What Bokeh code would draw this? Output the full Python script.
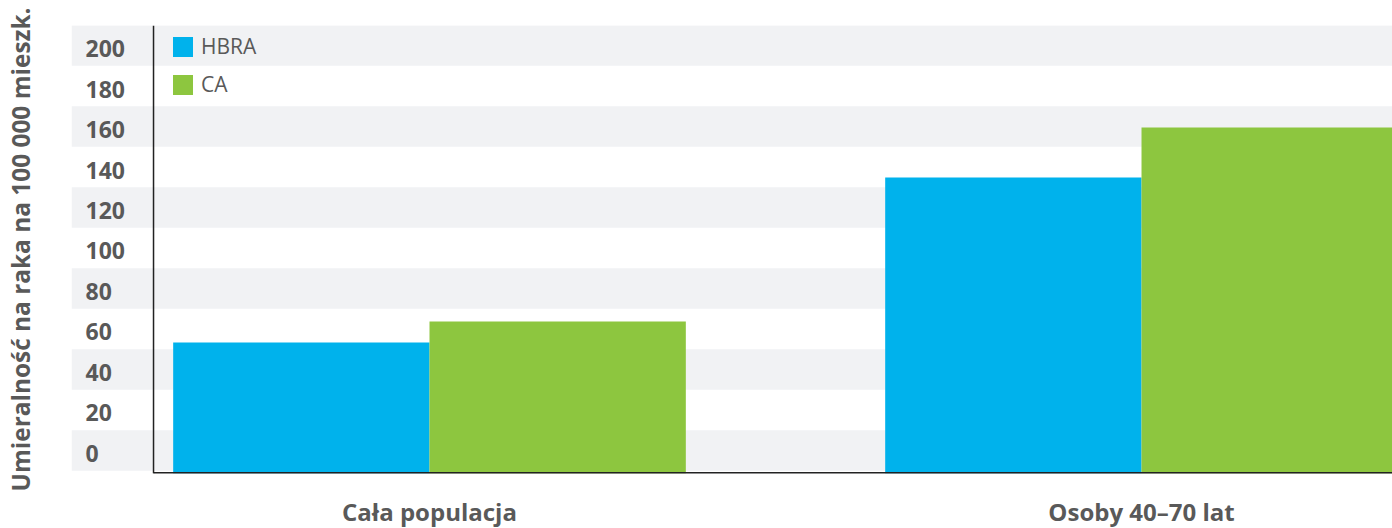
from bokeh.plotting import figure
from bokeh.models import Range1d, FixedTicker, Span, Legend, LegendItem
from bokeh.core.properties import value
from bokeh.embed import file_html
from bokeh.resources import INLINE

# ---- data ----
categories = ["Cała populacja", "Osoby 40–70 lat"]
series_names = ["HBRA", "CA"]
hbra_values = [53.3, 134.8]
ca_values = [63.7, 159.5]
y_ticks = [0, 20, 40, 60, 80, 100, 120, 140, 160, 180, 200]
y_tick_labels = ["0", "20", "40", "60", "80", "100", "120", "140", "160", "180", "200"]
y_title = "Umieralność na raka na 100 000 mieszk."

# ---- layout / style constants ----
X_START, X_END = -0.5028, 1.3525
AXIS_X = -0.3876
LABEL_X = -0.4831
Y_START, Y_END = -11.4, 209.9
BAR_W = 0.36
BLUE = "#00B2EC"
GREEN = "#8DC63F"
BAND = "#F1F2F4"
TEXT = "#595959"
FONT = "Open Sans"

p = figure(frame_width=1321, frame_height=448,
           x_range=Range1d(X_START, X_END), y_range=Range1d(Y_START, Y_END),
           output_backend="svg", toolbar_location=None,
           min_border_left=71, min_border_right=0, min_border_top=25, min_border_bottom=0)
p.outline_line_color = None
p.xgrid.grid_line_color = None
p.ygrid.grid_line_color = None
p.background_fill_color = "white"
p.border_fill_color = "white"

# alternating bands centred on every other tick
band_ticks = y_ticks[::2]
band_bottom = [max(t - 10, Y_START) for t in band_ticks]
band_top = [t + 10 for t in band_ticks]
p.quad(left=X_START, right=X_END, bottom=band_bottom, top=band_top,
       fill_color=BAND, line_color=None)

# bars
idx = list(range(len(categories)))
r1 = p.vbar(x=[i - BAR_W / 2 for i in idx], top=hbra_values, bottom=Y_START, width=BAR_W,
            fill_color=BLUE, line_color=None)
r2 = p.vbar(x=[i + BAR_W / 2 for i in idx], top=ca_values, bottom=Y_START, width=BAR_W,
            fill_color=GREEN, line_color=None)

# axis lines (L shape)
p.add_layout(Span(location=AXIS_X, dimension="height", line_color="#222222", line_width=1.5))
p.segment(x0=[AXIS_X], y0=[Y_START], x1=[X_END], y1=[Y_START], line_color="#222222", line_width=3)

# y tick labels, left aligned inside the banded area
p.text(x=[LABEL_X] * len(y_ticks), y=y_ticks, text=y_tick_labels,
       text_align="left", text_baseline="middle", y_offset=3,
       text_font=value(FONT), text_font_style="bold", text_font_size="23px",
       text_color=TEXT)

# y axis (title only; ticks placed at the same values)
ya = p.yaxis[0]
ya.ticker = FixedTicker(ticks=y_ticks)
ya.major_label_overrides = {t: "" for t in y_ticks}
ya.axis_line_color = None
ya.major_tick_line_color = None
ya.minor_tick_line_color = None
ya.major_tick_out = 0
ya.major_tick_in = 0
ya.minor_tick_out = 0
ya.minor_tick_in = 0
ya.major_label_standoff = 0
ya.axis_label = y_title
ya.axis_label_text_font = FONT
ya.axis_label_text_font_style = "bold"
ya.axis_label_text_font_size = "24.4px"
ya.axis_label_text_color = TEXT
ya.axis_label_standoff = 35

# x axis
xa = p.xaxis[0]
xa.ticker = FixedTicker(ticks=idx)
xa.major_label_overrides = {i: c for i, c in zip(idx, categories)}
xa.axis_line_color = None
xa.major_tick_line_color = None
xa.minor_tick_line_color = None
xa.major_label_standoff = 15
xa.major_label_text_font = FONT
xa.major_label_text_font_style = "bold"
xa.major_label_text_font_size = "24px"
xa.major_label_text_color = TEXT

# legend
legend = Legend(items=[LegendItem(label=series_names[0], renderers=[r1]),
                       LegendItem(label=series_names[1], renderers=[r2])],
                location=(99, 375), orientation="vertical")
legend.background_fill_alpha = 0
legend.border_line_color = None
legend.margin = 0
legend.padding = 0
legend.spacing = 10
legend.glyph_width = 25
legend.glyph_height = 25
legend.label_height = 28
legend.label_standoff = 6
legend.label_text_font = FONT
legend.label_text_font_size = "21px"
legend.label_text_color = TEXT
p.add_layout(legend)

open("out.html", "w").write(file_html(p, INLINE))
